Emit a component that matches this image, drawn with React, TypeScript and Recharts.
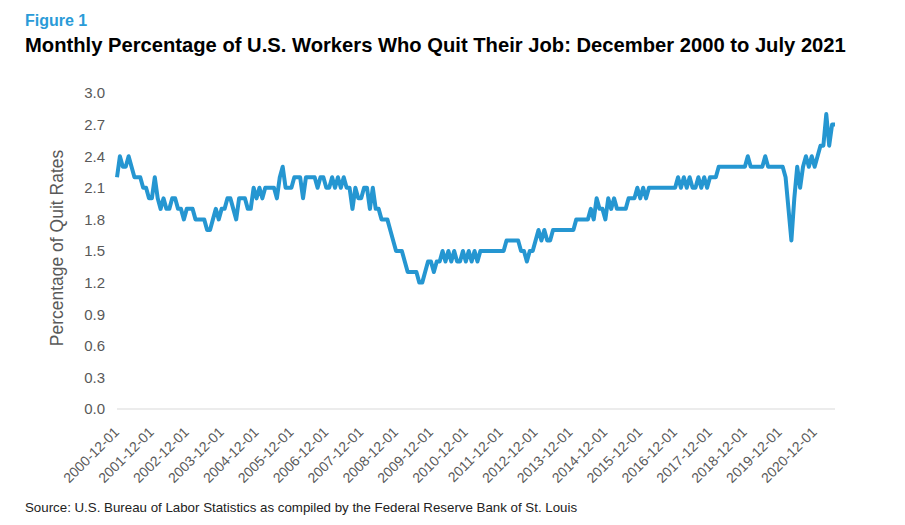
import { Line, LineChart, XAxis, YAxis } from 'recharts';

// JOLTS quits rate, total nonfarm, monthly from Dec 2000
const START_YEAR = 2000;
const START_MONTH = 12;

const quitRate = [
  2.2, 2.4, 2.3, 2.3, 2.4, 2.3, 2.2, 2.2, 2.2, 2.1, 2.1, 2.0,
  2.0, 2.2, 2.0, 1.9, 2.0, 1.9, 1.9, 2.0, 2.0, 1.9, 1.9, 1.8,
  1.9, 1.9, 1.9, 1.8, 1.8, 1.8, 1.8, 1.7, 1.7, 1.8, 1.9, 1.8,
  1.9, 1.9, 2.0, 2.0, 1.9, 1.8, 2.0, 2.0, 2.0, 1.9, 1.9, 2.1,
  2.0, 2.1, 2.0, 2.1, 2.1, 2.1, 2.1, 2.0, 2.2, 2.3, 2.1, 2.1,
  2.1, 2.2, 2.2, 2.2, 2.0, 2.2, 2.2, 2.2, 2.2, 2.1, 2.2, 2.2,
  2.1, 2.1, 2.2, 2.1, 2.2, 2.1, 2.2, 2.1, 2.1, 1.9, 2.1, 2.0,
  2.0, 2.1, 2.1, 1.9, 2.1, 1.9, 1.9, 1.8, 1.8, 1.8, 1.7, 1.6,
  1.5, 1.5, 1.5, 1.4, 1.3, 1.3, 1.3, 1.3, 1.2, 1.2, 1.3, 1.4,
  1.4, 1.3, 1.4, 1.4, 1.5, 1.4, 1.5, 1.4, 1.5, 1.4, 1.4, 1.5,
  1.4, 1.5, 1.4, 1.5, 1.4, 1.5, 1.5, 1.5, 1.5, 1.5, 1.5, 1.5,
  1.5, 1.5, 1.6, 1.6, 1.6, 1.6, 1.6, 1.5, 1.5, 1.4, 1.5, 1.5,
  1.6, 1.7, 1.6, 1.7, 1.6, 1.6, 1.7, 1.7, 1.7, 1.7, 1.7, 1.7,
  1.7, 1.7, 1.8, 1.8, 1.8, 1.8, 1.8, 1.9, 1.8, 2.0, 1.9, 1.9,
  1.8, 2.0, 1.9, 2.0, 1.9, 1.9, 1.9, 1.9, 2.0, 2.0, 2.0, 2.1,
  2.0, 2.1, 2.0, 2.1, 2.1, 2.1, 2.1, 2.1, 2.1, 2.1, 2.1, 2.1,
  2.1, 2.2, 2.1, 2.2, 2.1, 2.2, 2.1, 2.1, 2.2, 2.1, 2.2, 2.1,
  2.2, 2.2, 2.2, 2.3, 2.3, 2.3, 2.3, 2.3, 2.3, 2.3, 2.3, 2.3,
  2.3, 2.4, 2.3, 2.3, 2.3, 2.3, 2.3, 2.4, 2.3, 2.3, 2.3, 2.3,
  2.3, 2.3, 2.2, 1.9, 1.6, 2.0, 2.3, 2.1, 2.3, 2.4, 2.3, 2.4,
  2.3, 2.4, 2.5, 2.5, 2.8, 2.5, 2.7, 2.7,
];

const yTicks = [0, 0.3, 0.6, 0.9, 1.2, 1.5, 1.8, 2.1, 2.4, 2.7, 3.0];

const months = quitRate.map((_, i) => {
  const m = START_MONTH - 1 + i;
  const year = START_YEAR + Math.floor(m / 12);
  const month = (m % 12) + 1;
  return `${year}-${String(month).padStart(2, '0')}-01`;
});

const data = months.map((date, i) => ({ date, rate: quitRate[i] }));

const FONT = "'Liberation Sans', Arial, sans-serif";
const GREY = '#595959';
const BLUE = '#2596D1';

function DateTick(props: any) {
  const { x, y, payload } = props;
  return (
    <text
      x={0}
      y={0}
      transform={`translate(${x + 3},${y + 24}) rotate(-45)`}
      textAnchor="end"
      fontSize={14}
      fill={GREY}
    >
      {payload.value}
    </text>
  );
}

export default function App() {
  return (
    <div
      style={{
        position: 'absolute',
        left: 0,
        top: 0,
        width: 905,
        height: 525,
        background: '#fff',
        fontFamily: FONT,
      }}
    >
      <LineChart
        width={905}
        height={525}
        data={data}
        margin={{ top: 93, right: 70, left: 57, bottom: 36 }}
      >
        <XAxis
          dataKey="date"
          interval={11}
          tickLine={false}
          tickSize={0}
          tickMargin={0}
          height={80}
          axisLine={{ stroke: '#d9d9d9' }}
          tick={<DateTick />}
        />
        <YAxis
          width={60}
          domain={[0, 3]}
          ticks={yTicks}
          axisLine={false}
          tickLine={false}
          tickSize={0}
          tickMargin={12}
          tick={{ fontSize: 15, fill: GREY }}
          tickFormatter={(v: number) => v.toFixed(1)}
        />
        <Line
          type="linear"
          dataKey="rate"
          stroke={BLUE}
          strokeWidth={4}
          strokeLinejoin="round"
          dot={false}
          isAnimationActive={false}
        />
      </LineChart>
      <svg
        width={905}
        height={525}
        style={{ position: 'absolute', left: 0, top: 0, pointerEvents: 'none' }}
      >
        <text x={25} y={26} fontSize={16} fontWeight="bold" fill="#2A9BD8">
          Figure 1
        </text>
        <text x={25} y={52} fontSize={20.2} fontWeight="bold" fill="#000">
          Monthly Percentage of U.S. Workers Who Quit Their Job: December 2000 to July 2021
        </text>
        <text
          x={0}
          y={0}
          transform="translate(57,248) rotate(-90)"
          textAnchor="middle"
          dominantBaseline="central"
          fontSize={17.5}
          fill={GREY}
        >
          Percentage of Quit Rates
        </text>
        <text x={25} y={512} fontSize={13.3} fill="#222">
          Source: U.S. Bureau of Labor Statistics as compiled by the Federal Reserve Bank of St. Louis
        </text>
      </svg>
    </div>
  );
}
